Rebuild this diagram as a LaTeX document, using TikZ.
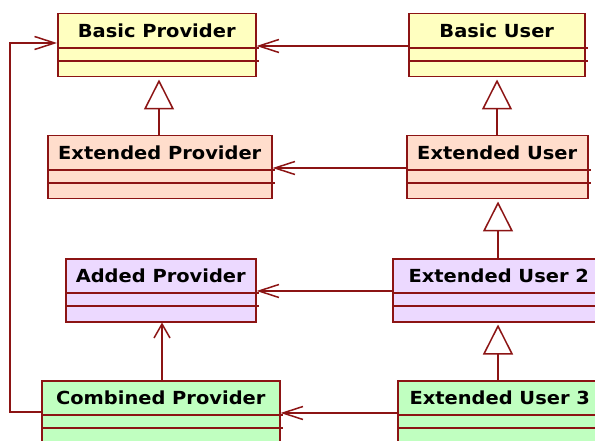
\documentclass[tikz,border=0pt]{standalone}
\usepackage{fontspec}
\setmainfont{DejaVu Sans}
\newfontfamily\titlefont[FakeStretch=1.08]{DejaVu Sans Bold}
\usetikzlibrary{arrows.meta}

\definecolor{edgered}{RGB}{140,20,20}
\definecolor{fyellow}{RGB}{255,255,192}
\definecolor{fpeach}{RGB}{255,221,204}
\definecolor{fviolet}{RGB}{236,217,255}
\definecolor{fgreen}{RGB}{192,255,192}

\tikzset{
  classbox/.style={draw=edgered, line width=1.5pt, rectangle, inner sep=0pt},
  classtitle/.style={font=\titlefont\fontsize{18}{21}\selectfont, inner sep=0pt, text=black},
  divider/.style={draw=edgered, line width=1.5pt},
  assoc/.style={draw=edgered, line width=1.5pt, -{Straight Barb[length=20pt, width=13pt, line width=1.5pt]}},
  assocv/.style={draw=edgered, line width=1.5pt, -{Straight Barb[length=14pt, width=16pt, line width=1.5pt]}},
  inherit/.style={draw=edgered, line width=1.5pt, -{Triangle[open, length=30pt, width=30pt, line width=1.5pt, fill=white]}},
}

% class box: name, left x, top y, width, height, fill colour, title
\newcommand\umlclass[7]{%
  \node[classbox, fill=#6, minimum width=#4pt, minimum height=#5pt, anchor=north west] (#1) at (#2,#3) {};
  \node[classtitle] (#1-t) at ([yshift=-17.5pt]#1.north) {#7};
  \draw[divider] ([yshift=-35pt]#1.north west) -- ([yshift=-35pt,xshift=2pt]#1.north east);
  \draw[divider] ([yshift=-48pt]#1.north west) -- ([yshift=-48pt,xshift=2pt]#1.north east);
}

\begin{document}
\begin{tikzpicture}[x=1pt, y=-1pt]
  \useasboundingbox (0,0) rectangle (595,441);
  \clip (0,0) rectangle (595,441);
  \fill[white] (0,0) rectangle (595,441);

  \umlclass{bp}{57}{13}{198}{63}{fyellow}{Basic Provider}
  \umlclass{bu}{408}{13}{176}{63}{fyellow}{Basic User}
  \umlclass{ep}{47}{135}{224}{63}{fpeach}{Extended Provider}
  \umlclass{eu}{406}{135}{181}{63}{fpeach}{Extended User}
  \umlclass{ap}{65}{258}{190}{63}{fviolet}{Added Provider}
  \umlclass{eutwo}{392}{258}{212}{63}{fviolet}{Extended User 2}
  \umlclass{cp}{41}{380}{238}{80}{fgreen}{Combined Provider}
  \umlclass{euthree}{397}{380}{204}{80}{fgreen}{Extended User 3}

  % associations
  \draw[assoc] (bu.west |- 0,46) -- (bp.east |- 0,46);
  \draw[assoc] (eu.west |- 0,168) -- (ep.east |- 0,168);
  \draw[assoc] (eutwo.west |- 0,291) -- (ap.east |- 0,291);
  \draw[assoc] (euthree.west |- 0,413) -- (cp.east |- 0,413);
  \coordinate (loopbot) at (10,412);
  \coordinate (looptop) at (10,43);
  \draw[assoc] (cp.west |- loopbot) -- (loopbot) -- (looptop) -- (bp.west |- looptop);
  \draw[assocv] (cp.north -| 162,0) -- (ap.south -| 162,0);

  % generalisations
  \draw[inherit] (ep.north -| 159,0) -- ([yshift=-2pt]bp.south -| 159,0);
  \draw[inherit] (eu.north -| 497,0) -- ([yshift=-2pt]bu.south -| 497,0);
  \draw[inherit] (eutwo.north -| 498,0) -- ([yshift=-2pt]eu.south -| 498,0);
  \draw[inherit] (euthree.north -| 498,0) -- ([yshift=-2pt]eutwo.south -| 498,0);
\end{tikzpicture}
\end{document}
